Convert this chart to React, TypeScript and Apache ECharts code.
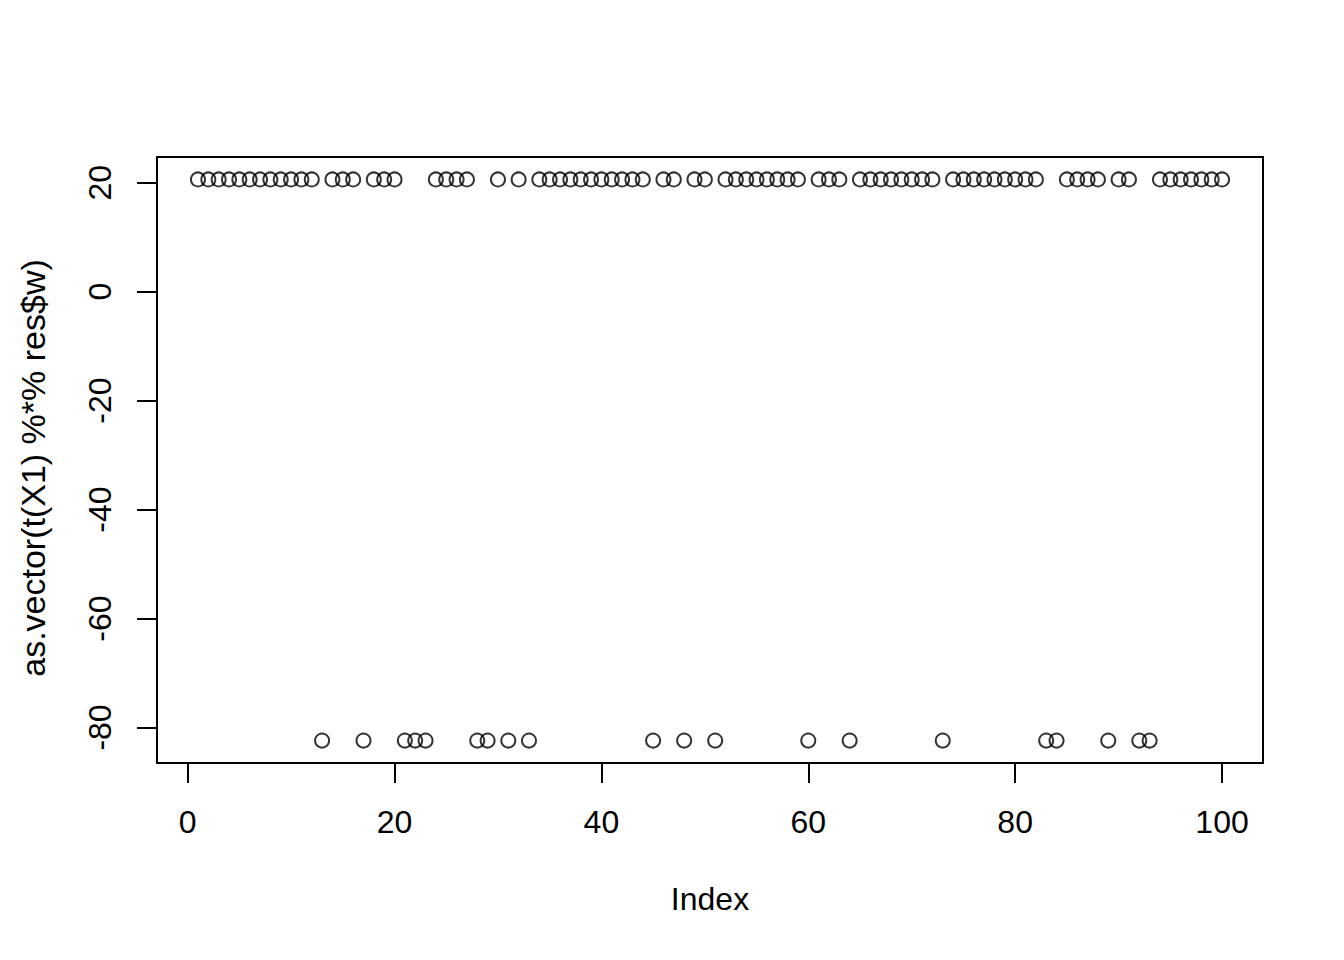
import { useEffect, useRef } from 'react'
import * as echarts from 'echarts'

// index 1..100 on the x axis
const indices = Array.from({ length: 100 }, (_, i) => i + 1)

// values, 10 per row
const values = [
  20.6, 20.6, 20.6, 20.6, 20.6, 20.6, 20.6, 20.6, 20.6, 20.6,
  20.6, 20.6, -82.4, 20.6, 20.6, 20.6, -82.4, 20.6, 20.6, 20.6,
  -82.4, -82.4, -82.4, 20.6, 20.6, 20.6, 20.6, -82.4, -82.4, 20.6,
  -82.4, 20.6, -82.4, 20.6, 20.6, 20.6, 20.6, 20.6, 20.6, 20.6,
  20.6, 20.6, 20.6, 20.6, -82.4, 20.6, 20.6, -82.4, 20.6, 20.6,
  -82.4, 20.6, 20.6, 20.6, 20.6, 20.6, 20.6, 20.6, 20.6, -82.4,
  20.6, 20.6, 20.6, -82.4, 20.6, 20.6, 20.6, 20.6, 20.6, 20.6,
  20.6, 20.6, -82.4, 20.6, 20.6, 20.6, 20.6, 20.6, 20.6, 20.6,
  20.6, 20.6, -82.4, -82.4, 20.6, 20.6, 20.6, 20.6, -82.4, 20.6,
  20.6, -82.4, -82.4, 20.6, 20.6, 20.6, 20.6, 20.6, 20.6, 20.6,
]

const xTicks = [0, 20, 40, 60, 80, 100]
const yTicks = [-80, -60, -40, -20, 0, 20]

const FONT = "'Liberation Sans', Arial, Helvetica, sans-serif"

// R pads the data range by 4% on each side
function padded(lo: number, hi: number) {
  const d = (hi - lo) * 0.04
  return [lo - d, hi + d]
}

export default function App() {
  const ref = useRef<HTMLDivElement>(null)

  useEffect(() => {
    if (!ref.current) return
    const chart = echarts.init(ref.current, null, { renderer: 'svg' })

    const [xMin, xMax] = padded(Math.min(...indices), Math.max(...indices))
    const [yMin, yMax] = padded(Math.min(...values), Math.max(...values))

    const tickStyle = { color: '#000', width: 2 }
    const labelStyle = { color: '#000', fontSize: 32, fontFamily: FONT }

    chart.setOption({
      animation: false,
      backgroundColor: '#fff',
      grid: {
        left: 157,
        top: 157,
        width: 1106,
        height: 606,
        show: true,
        borderColor: '#000',
        borderWidth: 2,
        backgroundColor: 'transparent',
      },
      xAxis: {
        type: 'value',
        min: xMin,
        max: xMax,
        axisLine: { show: false, onZero: false },
        splitLine: { show: false },
        axisTick: { show: true, customValues: xTicks, length: 20, lineStyle: tickStyle },
        axisLabel: { customValues: xTicks, margin: 43, ...labelStyle },
        name: 'Index',
        nameLocation: 'middle',
        nameGap: 120,
        nameTextStyle: labelStyle,
      },
      yAxis: {
        type: 'value',
        min: yMin,
        max: yMax,
        axisLine: { show: false, onZero: false },
        splitLine: { show: false },
        axisTick: { show: true, customValues: yTicks, length: 20, lineStyle: tickStyle },
        axisLabel: { customValues: yTicks, rotate: 90, margin: 41, ...labelStyle },
        name: 'as.vector(t(X1) %*% res$w)',
        nameLocation: 'middle',
        nameRotate: 90,
        nameGap: 107,
        nameTextStyle: { ...labelStyle, fontSize: 34, padding: [0, 16, 0, 0] },
      },
      series: [
        {
          type: 'scatter',
          data: indices.map((x, i) => [x, values[i]]),
          symbol: 'circle',
          symbolSize: 14,
          itemStyle: { color: 'rgba(0,0,0,0)', borderColor: '#000', borderWidth: 2 },
        },
      ],
    })

    return () => chart.dispose()
  }, [])

  return (
    <div
      ref={ref}
      style={{ position: 'absolute', left: 0, top: 0, width: 1344, height: 960 }}
    />
  )
}
